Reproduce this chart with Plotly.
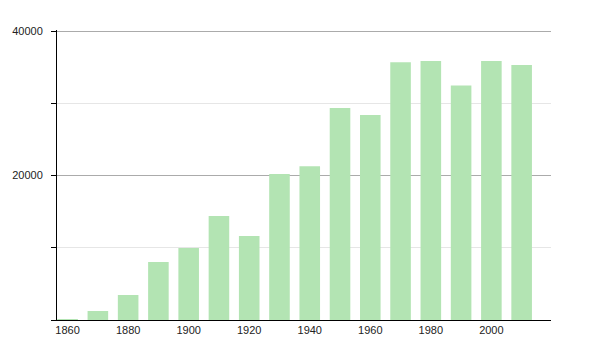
import plotly.graph_objects as go

years = [1860, 1870, 1880, 1890, 1900, 1910, 1920, 1930, 1940, 1950, 1960, 1970, 1980, 1990, 2000, 2010]
population = [100, 1250, 3460, 8030, 9970, 14400, 11630, 20200, 21300, 29340, 28370, 35700, 35850, 32480, 35850, 35290]
x_ticks = [1860, 1880, 1900, 1920, 1940, 1960, 1980, 2000]
y_major = [0, 20000, 40000]
y_major_text = ["", "20000", "40000"]
y_minor = [10000, 30000]

fig = go.Figure(go.Bar(
    x=years, y=population, width=6.8,
    marker=dict(color="#b3e4b3", line=dict(width=0)),
    hoverinfo="x+y",
))

fig.update_layout(
    width=600, height=350,
    margin=dict(l=49, r=49, t=30, b=30),
    paper_bgcolor="white", plot_bgcolor="white",
    showlegend=False,
    font=dict(family="Liberation Sans, Arial, sans-serif", size=11, color="#222"),
    xaxis=dict(
        range=[1856.5, 2019.7],
        tickmode="array", tickvals=x_ticks,
        ticks="", showgrid=False, zeroline=False,
        showline=True, linecolor="black", linewidth=1,
        ticklabelstandoff=0,
    ),
    yaxis=dict(
        range=[0, 40150],
        tickmode="array", tickvals=y_major, ticktext=y_major_text,
        ticks="outside", ticklen=5, tickcolor="black", tickwidth=1,
        showgrid=True, gridcolor="#ababab", gridwidth=1,
        zeroline=False,
        showline=True, linecolor="black", linewidth=1,
        minor=dict(tickmode="array", tickvals=y_minor, ticks="outside", ticklen=5,
                   tickcolor="black", showgrid=True, gridcolor="#e6e6e6", gridwidth=1),
        ticklabelstandoff=6,
    ),
)

fig.write_html("out.html")
